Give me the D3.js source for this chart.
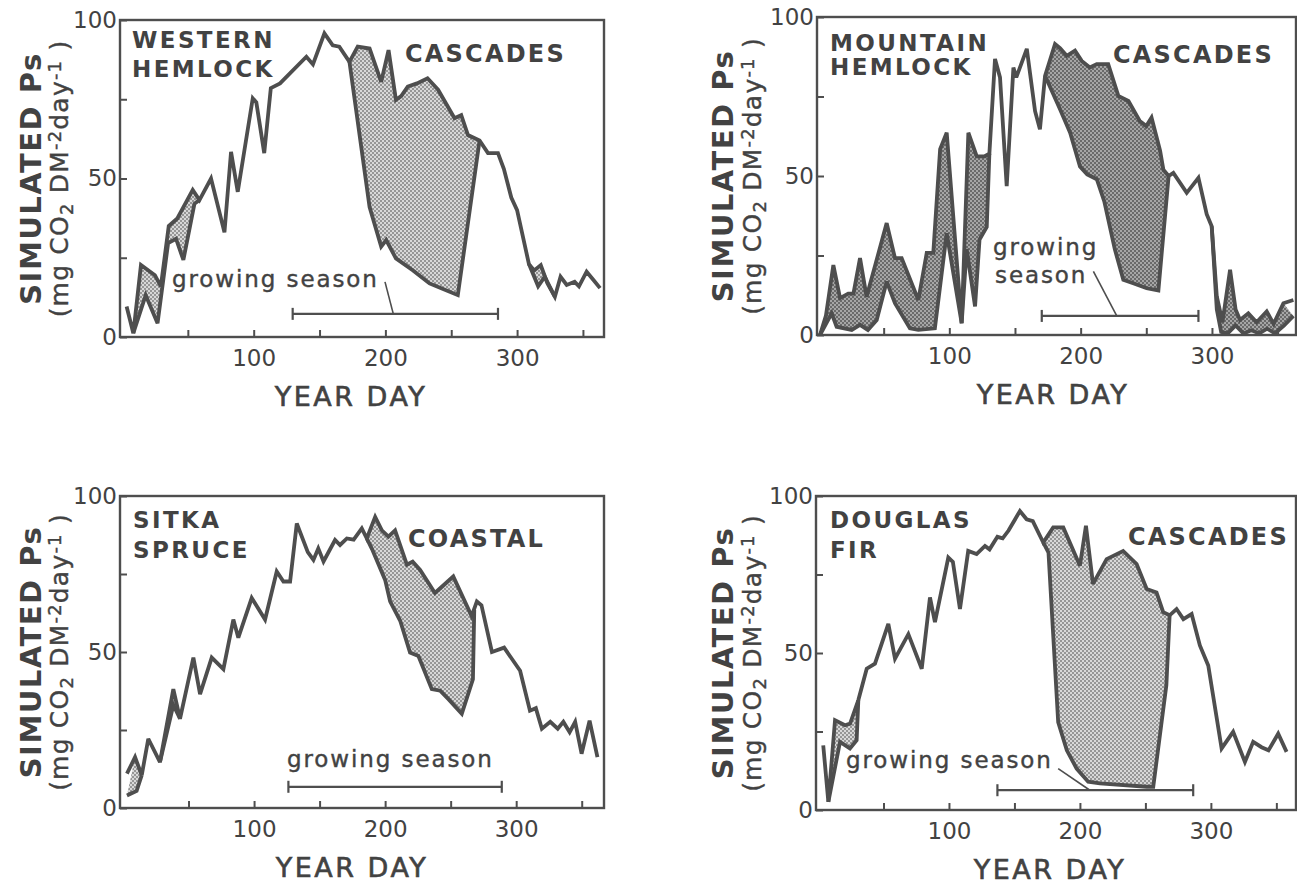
<!DOCTYPE html>
<html><head><meta charset="utf-8">
<script src="https://cdn.jsdelivr.net/npm/d3@7"></script>
<style>body{margin:0;background:#fff}svg{display:block}</style>
</head><body>
<svg id="c" width="1297" height="886"></svg>
<script>
// ---------- data ----------
const xTickMarks = [50, 100, 150, 200, 250, 300, 350];
const xTickLabels = [100, 200, 300];
const yTickMarks = [0, 25, 50, 75, 100];
const yTickLabels = [0, 50, 100];
const xAxisTitle = "YEAR DAY";
const yAxisTitle = "SIMULATED Ps";
const growingLabel = "growing season";

// Western hemlock (Cascades)
const westernHemlockName = ["WESTERN", "HEMLOCK"];
const westernHemlockRegion = "CASCADES";
const westernHemlockUpper = [[3.5,9.6],[8.6,1.2],[14.4,22.7],[25,19.5],[29.5,16],[35.5,35],[42,37.4],[53.7,46.4],[58.8,43.2],[67.6,50],[77.8,33],[82.8,58.4],[87.9,45.8],[99.3,75.3],[102,74],[108,58],[113,78.5],[120,80],[140,88.4],[145,86],[153.7,95.8],[160,92],[165,91.6],[172.7,86.8],[179,91.6],[188,91],[196.8,80.5],[202.4,90.5],[208,74.8],[212,76],[217,79],[224,80],[232,81.6],[240,78],[252.5,69],[257.6,70],[262.7,63.7],[271.5,62],[277.9,58],[285.5,58],[290,53],[295.6,44],[300,40],[309,23],[313,21],[318,22.7],[323,17],[328.7,12.7],[333,19],[337.7,16.4],[343.7,17.4],[347,16],[352.8,20.6],[358,18],[363,15.4]];
const westernHemlockLower = [
  [[8.6,1.2],[18,13.2],[27,4.3],[35,29.6],[41,31],[46.6,24.3],[55,42],[58.8,43.2]],
  [[172.7,86.8],[188,41],[196.8,28.5],[200.6,30.6],[208,24.8],[221,21],[233.5,16.9],[242.4,15.4],[255,13.2],[271.5,62]],
  [[309,23],[316,16],[321,19],[328.7,12.7]]
];
const westernHemlockGrowing = [129.6, 285.5];

// Mountain hemlock (Cascades)
const mountainHemlockName = ["MOUNTAIN", "HEMLOCK"];
const mountainHemlockRegion = "CASCADES";
const mountainHemlockUpper = [[1.5,0],[6,6],[11.7,22],[16.8,11.6],[23,13],[27,13],[32,24.2],[37,12],[52.3,35.2],[58.6,24.2],[63.7,24.2],[76.4,11],[82.8,25.8],[87.8,25.8],[93,58.4],[98,63.6],[109.4,3.7],[114.5,63.6],[120.9,56.2],[127,56.2],[130.5,57],[134.8,86.8],[138.6,81],[143.7,46.8],[148.8,84.1],[151,81],[159,90],[165.3,70.4],[169,64.7],[172.9,81.5],[180.5,91.5],[184.3,90.2],[189.4,87.8],[195.7,89.4],[200.8,86.2],[207,84.1],[212.3,85.2],[221,85.2],[228.7,75.2],[236.4,73.6],[245,67.3],[250,65.7],[254,68.4],[260.5,58],[263,52],[267,50],[270.6,51],[280.8,44.7],[289.7,49.4],[296,38],[299.8,34.2],[303.7,12.1],[308,4],[313.8,20.5],[318,8],[321.4,4.7],[327.7,6.8],[334,4],[341.7,7.4],[347,3.5],[354.4,10],[362,11]];
const mountainHemlockLower = [
  [[1.5,0],[10.4,6.8],[14.2,2.6],[25.7,1.6],[32,3.2],[38,1.6],[44.7,4.7],[52.3,16.8],[58.6,10],[70,2.1],[76.4,1.6],[89,2.1],[98,32],[109.4,3.7],[113.2,27],[119.6,9],[123,30],[128.5,34],[130.5,57]],
  [[172.9,81.5],[184.3,71],[192,63.6],[199.5,53],[205,50.5],[212.3,49],[218,42],[226,27],[232.5,17.4],[240,16.3],[250.3,14.7],[259.2,14],[267,50]],
  [[299.8,34.2],[303.7,8],[307,1],[312,0.5],[318,3],[324,0.5],[330,1.5],[336,0.5],[342,2],[348,0.5],[355,3],[362,6]]
];
const mountainHemlockGrowing = [170.4, 289.7];

// Sitka spruce (Coastal)
const sitkaSpruceName = ["SITKA", "SPRUCE"];
const sitkaSpruceRegion = "COASTAL";
const sitkaSpruceUpper = [[3,11],[9.2,16.3],[14.3,10.5],[19.3,22.2],[28.2,14.7],[38.4,38.1],[43.5,28.6],[53.7,48.2],[58.8,36.5],[67.7,48.2],[76.6,44.5],[84.2,60.4],[88,54.6],[98.2,67.3],[108.4,60.4],[117.3,75.8],[122.4,72.6],[127.5,72.6],[132.6,91.2],[141,82],[145.3,79.5],[149,83.2],[153,79],[161.8,85.9],[165.6,84.3],[170.8,86.4],[176,86],[182.2,89.6],[186,86.4],[192.4,93.3],[197.5,89],[202.5,87],[207.6,89],[216.6,78],[221,79],[226.7,76.3],[238,68.9],[252,74.2],[266,61.5],[270,66.2],[273.5,65],[281.5,50],[290.8,51.4],[303,44],[310.5,31.2],[315,32],[319.6,25.4],[326,27.6],[331.7,25.4],[336,27.6],[340.8,24.3],[345,27.6],[349.9,17.4],[356,28],[362,16.3]];
const sitkaSpruceLower = [
  [[3,4],[10.4,5.5],[14.3,10.5]],
  [[28.2,14.7],[38.4,33],[43.5,28.6]],
  [[186,86.4],[190,83],[200,73.1],[203.8,66.2],[211.5,60],[219,49.8],[225.4,48.7],[235.6,38.1],[242,37.6],[248.3,34.9],[258.5,30.2],[267,41.3],[268,63.5]]
];
const sitkaSpruceGrowing = [126.2, 289];

// Douglas fir (Cascades)
const douglasFirName = ["DOUGLAS", "FIR"];
const douglasFirRegion = "CASCADES";
const douglasFirUpper = [[4,20.6],[7.9,2.6],[13,28.6],[20.6,27],[24.5,27.5],[30.8,35],[37.2,45],[43.5,46.6],[53.7,59.3],[58.8,48.2],[69,56],[79.2,45],[85.5,67.7],[89.3,59.8],[99.5,80.4],[103,79],[108.4,64],[114.7,82.5],[121.1,81.5],[127.5,84.1],[131,83],[137,87],[141,86.5],[145.5,89],[154.2,95.2],[159.3,92.6],[164,92],[172,85.2],[179.6,90],[187.3,90],[200,77.8],[204.6,90.5],[210,72],[220.4,79.9],[233,82.5],[243.3,78.3],[251,70.4],[258.5,69.3],[263.6,63],[268.5,62],[273.8,64],[279,60.8],[285.3,62.4],[291.6,52.4],[298,46],[308.2,19.6],[317,24.9],[326,15.3],[332.3,21.7],[338.7,20],[344,19],[351.4,24.3],[357.8,18.5]];
const douglasFirLower = [
  [[7.9,2.6],[16.8,21.7],[24.4,19.6],[29.5,22.2],[30.8,35]],
  [[172,85.2],[176,82],[183.4,28],[190,19],[197.5,13.2],[206.3,9],[215.3,8.5],[251,7.4],[256,7.4],[266,39.7],[268.5,62]]
];
const douglasFirGrowing = [137, 286.5];

// ---------- layout ----------
const panels = [
  { upper: westernHemlockUpper, lower: westernHemlockLower, growing: westernHemlockGrowing,
    name: westernHemlockName, region: westernHemlockRegion,
    frame: {l:120, t:20, r:604, b:337}, xRange:[122,604], xMax:366, fill:"url(#stipLight)",
    nameX:132, nameY:[48,77], regionX:405, regionY:62,
    titleX:[41,68], xTitleX:351, barVal:7.3,
    growText:[{t:growingLabel, x:172, y:287}], pointer:[[199.7,17.4],[206,7.3]] },
  { upper: mountainHemlockUpper, lower: mountainHemlockLower, growing: mountainHemlockGrowing,
    name: mountainHemlockName, region: mountainHemlockRegion,
    frame: {l:817, t:17, r:1296, b:335}, xRange:[818,1296], xMax:364, fill:"url(#stipDark)",
    nameX:830, nameY:[51,75], regionX:1113, regionY:63,
    titleX:[733,761], xTitleX:1053, barVal:6,
    growText:[{t:"growing", x:993, y:255},{t:"season", x:995, y:283}], pointer:[[209.7,20],[227.5,6]] },
  { upper: sitkaSpruceUpper, lower: sitkaSpruceLower, growing: sitkaSpruceGrowing,
    name: sitkaSpruceName, region: sitkaSpruceRegion,
    frame: {l:120, t:496, r:604, b:808}, xRange:[123,604], xMax:367, fill:"url(#stipLight)",
    nameX:133, nameY:[528,558], regionX:408, regionY:547,
    titleX:[41,68], xTitleX:352, barVal:6.8,
    growText:[{t:growingLabel, x:287, y:767}], pointer:null },
  { upper: douglasFirUpper, lower: douglasFirLower, growing: douglasFirGrowing,
    name: douglasFirName, region: douglasFirRegion,
    frame: {l:816, t:496, r:1296, b:810}, xRange:[818,1296], xMax:365, fill:"url(#stipLight)",
    nameX:830, nameY:[528,558], regionX:1128, regionY:545,
    titleX:[733,761], xTitleX:1050, barVal:6.3,
    growText:[{t:growingLabel, x:846, y:768}], pointer:[[183.4,13.2],[207.6,6.3]] }
];

const INK = "#4e4e4e";
const TXT = "#424242";
const FONT = "'DejaVu Sans', sans-serif";

const svg = d3.select("#c");
svg.append("rect").attr("width",1297).attr("height",886).attr("fill","#fff");
const defs = svg.append("defs");
function addPattern(id, bg, dot) {
  const p = defs.append("pattern").attr("id", id).attr("width", 4).attr("height", 4)
    .attr("patternUnits", "userSpaceOnUse");
  p.append("rect").attr("width", 4).attr("height", 4).attr("fill", bg);
  p.append("rect").attr("x", 0).attr("y", 0).attr("width", 2).attr("height", 2).attr("fill", dot);
  p.append("rect").attr("x", 2).attr("y", 2).attr("width", 2).attr("height", 2).attr("fill", dot);
}
addPattern("stipLight", "#d8d8d8", "#969696");
addPattern("stipDark", "#a6a6a6", "#6a6a6a");

panels.forEach(p => {
  const g = svg.append("g");
  const f = p.frame;
  const x = d3.scaleLinear().domain([0, p.xMax]).range(p.xRange);
  const y = d3.scaleLinear().domain([0, 100]).range([f.b, f.t]);
  const line = d3.line().x(d => x(d[0])).y(d => y(d[1]));

  // shaded differences between the two simulations
  p.lower.forEach(seg => {
    const s = seg[0][0], e = seg[seg.length - 1][0];
    const up = p.upper.filter(d => d[0] > s && d[0] < e);
    const poly = [seg[0], ...up, seg[seg.length - 1], ...seg.slice().reverse()];
    g.append("path").attr("d", line(poly) + "Z").attr("fill", p.fill).attr("stroke", "none");
  });
  // lines
  p.lower.forEach(seg => {
    g.append("path").attr("d", line(seg)).attr("fill", "none").attr("stroke", INK)
      .attr("stroke-width", 3.8).attr("stroke-linejoin", "miter").attr("stroke-miterlimit", 3);
  });
  g.append("path").attr("d", line(p.upper)).attr("fill", "none").attr("stroke", INK)
    .attr("stroke-width", 3.8).attr("stroke-linejoin", "miter").attr("stroke-miterlimit", 3);

  // frame
  g.append("rect").attr("x", f.l).attr("y", f.t).attr("width", f.r - f.l).attr("height", f.b - f.t)
    .attr("fill", "none").attr("stroke", INK).attr("stroke-width", 2.4);

  // axes
  const xa = g.append("g").attr("transform", `translate(0,${f.b})`)
    .call(d3.axisBottom(x).tickValues(xTickMarks).tickSize(-7).tickPadding(13)
      .tickFormat(d => xTickLabels.includes(d) ? d : ""));
  const ya = g.append("g").attr("transform", `translate(${f.l},0)`)
    .call(d3.axisLeft(y).tickValues(yTickMarks).tickSize(-7).tickPadding(3)
      .tickFormat(d => yTickLabels.includes(d) ? d : ""));
  [xa, ya].forEach(a => {
    a.select(".domain").remove();
    a.selectAll(".tick line").attr("stroke", INK).attr("stroke-width", 2);
    a.selectAll(".tick text").attr("fill", TXT).style("font-family", FONT).style("font-size", "23px");
  });

  // species and region names
  p.name.forEach((n, i) => {
    g.append("text").attr("x", p.nameX).attr("y", p.nameY[i]).text(n)
      .attr("fill", TXT).style("font-family", FONT).style("font-size", "23px")
      .style("font-weight", "bold").style("letter-spacing", "2.4px");
  });
  g.append("text").attr("x", p.regionX).attr("y", p.regionY).text(p.region)
    .attr("fill", TXT).style("font-family", FONT).style("font-size", "24px")
    .style("font-weight", "bold").style("letter-spacing", "2.2px");

  // axis titles
  g.append("text").attr("x", p.xTitleX).attr("y", f.b + 69).attr("text-anchor", "middle").text(xAxisTitle)
    .attr("fill", TXT).attr("stroke", TXT).attr("stroke-width", 0.6)
    .style("font-family", FONT).style("font-size", "27px").style("letter-spacing", "2.5px");
  const cy = (f.t + f.b) / 2;
  g.append("text").attr("transform", `translate(${p.titleX[0]},${cy}) rotate(-90)`)
    .attr("text-anchor", "middle").text(yAxisTitle)
    .attr("fill", TXT).style("font-family", FONT).style("font-size", "29px")
    .style("font-weight", "bold").style("letter-spacing", "1.5px");
  const t2 = g.append("text").attr("transform", `translate(${p.titleX[1]},${cy}) rotate(-90)`)
    .attr("text-anchor", "middle").attr("fill", TXT).attr("stroke", TXT).attr("stroke-width", 0.4)
    .style("font-family", FONT).style("font-size", "25px").style("letter-spacing", "1.2px");
  t2.append("tspan").text("(mg CO");
  t2.append("tspan").text("2").attr("baseline-shift", "-25%").style("font-size", "18px");
  t2.append("tspan").text(" DM");
  t2.append("tspan").text("-2").attr("baseline-shift", "40%").style("font-size", "18px");
  t2.append("tspan").text("day");
  t2.append("tspan").text("-1").attr("baseline-shift", "40%").style("font-size", "18px");
  t2.append("tspan").text(" )");

  // growing season bar
  const by = y(p.barVal);
  const x0 = x(p.growing[0]), x1 = x(p.growing[1]);
  g.append("line").attr("x1", x0).attr("x2", x1).attr("y1", by).attr("y2", by)
    .attr("stroke", INK).attr("stroke-width", 2.2);
  [x0, x1].forEach(xx => g.append("line").attr("x1", xx).attr("x2", xx).attr("y1", by - 6).attr("y2", by + 6)
    .attr("stroke", INK).attr("stroke-width", 2.2));
  p.growText.forEach(t => {
    g.append("text").attr("x", t.x).attr("y", t.y).text(t.t).attr("fill", TXT)
      .attr("stroke", TXT).attr("stroke-width", 0.4)
      .style("font-family", FONT).style("font-size", "23px").style("letter-spacing", "1.9px");
  });
  if (p.pointer) {
    g.append("line").attr("x1", x(p.pointer[0][0])).attr("y1", y(p.pointer[0][1]))
      .attr("x2", x(p.pointer[1][0])).attr("y2", y(p.pointer[1][1]))
      .attr("stroke", INK).attr("stroke-width", 1.6);
  }
});
</script>
</body></html>
